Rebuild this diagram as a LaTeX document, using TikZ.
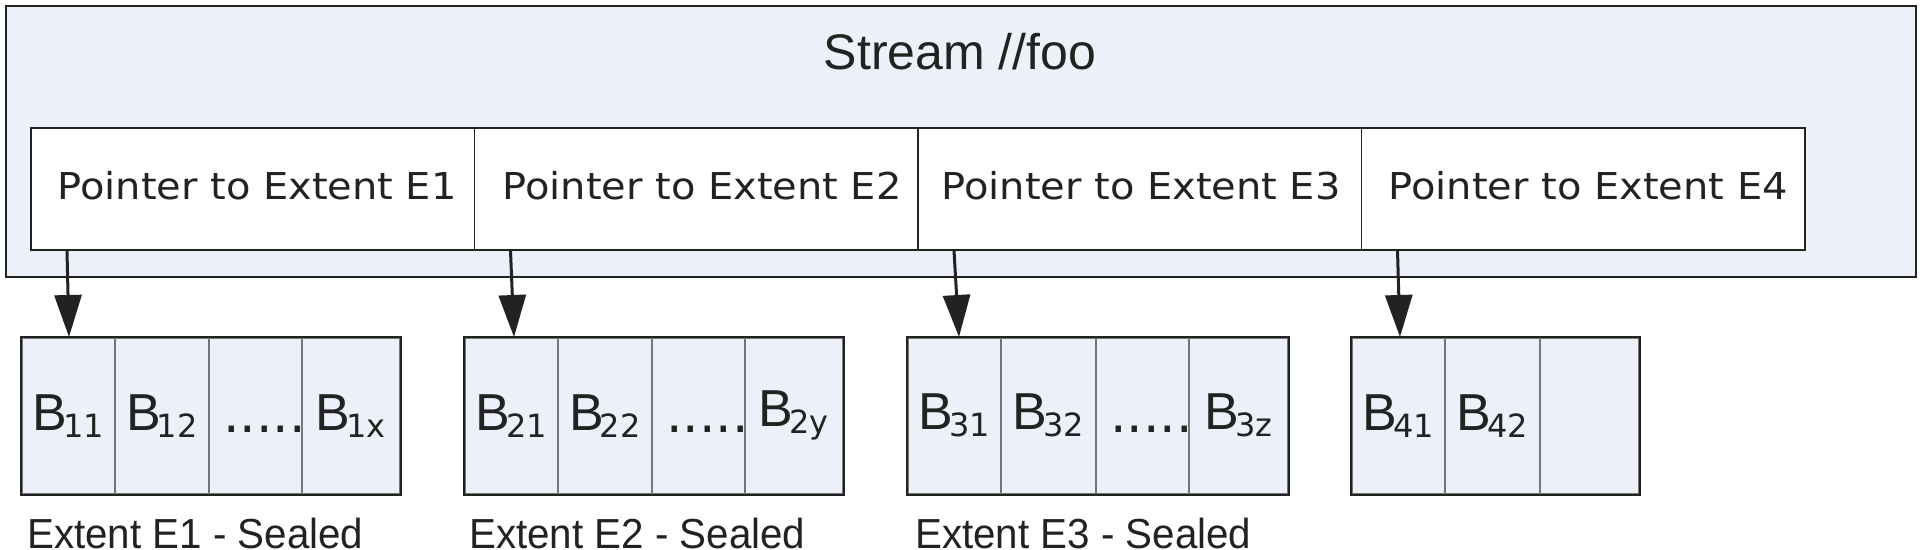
\documentclass[tikz,border=0pt]{standalone}
\usepackage{fontspec}
\setmainfont{Liberation Sans}
\newfontfamily\dvs{DejaVu Sans}
\newfontfamily\dvsw[FakeStretch=1.08]{DejaVu Sans}
\newfontfamily\capfont[FakeStretch=0.96]{Liberation Sans}
\usetikzlibrary{arrows.meta,calc}
\definecolor{boxfill}{HTML}{EBF0F9}
\definecolor{edge}{HTML}{222222}
\definecolor{divgray}{HTML}{777777}
\newcommand\Bsub[1]{{\fontsize{52}{52}\selectfont B}\kern-4pt\raisebox{-7pt}{\dvs\fontsize{32}{32}\selectfont #1}}
\tikzset{
  streambox/.style={draw=edge, line width=1.6pt, fill=boxfill, inner sep=0pt,
    minimum width=1910pt, minimum height=271pt, anchor=north west},
  titletext/.style={font=\fontsize{50}{54}\selectfont, text=edge, anchor=base, inner sep=0pt},
  ptrcell/.style={draw=edge, line width=1.6pt, fill=white, inner sep=0pt,
    minimum width=443.5pt, minimum height=122pt, anchor=north west,
    text height=27pt, text depth=5pt, text=edge,
    font=\dvsw\fontsize{37}{40}\selectfont},
  blkcell/.style={draw=divgray, line width=1.6pt, fill=boxfill, inner sep=0pt,
    minimum height=156pt, anchor=north west, text=edge},
  blkframe/.style={draw=edge, line width=1.8pt},
  dotstext/.style={font=\dvs\fontsize{52}{52}\selectfont, text=edge, anchor=base east, inner sep=0pt},
  captext/.style={font=\capfont\fontsize{42}{46}\selectfont, text=edge, anchor=base west, inner sep=0pt},
  ptrarrow/.style={-{Triangle[length=42pt,width=27pt]}, line width=3pt, draw=edge, fill=edge}
}
\begin{document}
\begin{tikzpicture}[x=1pt,y=-1pt]
\useasboundingbox (0,0) rectangle (1920,549);
\clip (0,0) rectangle (1920,549);

% stream container
\node[streambox] (stream) at (5,5) {};
\node[titletext] (title) at (960,69) {Stream //foo};

% pointer cells
\node[ptrcell] (p1) at (30,127)     {\hspace*{9pt}Pointer to Extent E1};
\node[ptrcell] (p2) at (473.5,127)  {\hspace*{12pt}Pointer to Extent E2};
\node[ptrcell] (p3) at (917,127)    {\hspace*{3pt}Pointer to Extent E3};
\node[ptrcell] (p4) at (1360.5,127) {\hspace*{10pt}Pointer to Extent E4};

% extent E1
\node[blkcell, minimum width=93pt] (b11) at (21,337)  {\Bsub{11}};
\node[blkcell, minimum width=94pt] (b12) at (114,337) {\Bsub{12}};
\node[blkcell, minimum width=93pt] (b13) at (208,337) {};
\node[blkcell, minimum width=98pt] (b14) at (301,337) {\Bsub{1x}};
\draw[blkframe] (b11.north west) rectangle (b14.south east);
\node[dotstext] (d1) at (306,432) {.....};
\node[captext] (c1) at (27,548) {Extent E1 - Sealed};

% extent E2
\node[blkcell, minimum width=93pt] (b21) at (464,337) {\Bsub{21}};
\node[blkcell, minimum width=94pt] (b22) at (557,337) {\Bsub{22}};
\node[blkcell, minimum width=93pt] (b23) at (651,337) {};
\node[blkcell, minimum width=98pt] (b24) at (744,337) {\Bsub{2y}};
\draw[blkframe] (b21.north west) rectangle (b24.south east);
\node[dotstext] (d2) at (749,432) {.....};
\node[captext] (c2) at (469,548) {Extent E2 - Sealed};

% extent E3
\node[blkcell, minimum width=93pt] (b31) at (907,337)  {\Bsub{31}};
\node[blkcell, minimum width=95pt] (b32) at (1000,337) {\Bsub{32}};
\node[blkcell, minimum width=93pt] (b33) at (1095,337) {};
\node[blkcell, minimum width=99pt] (b34) at (1188,337) {\Bsub{3z}};
\draw[blkframe] (b31.north west) rectangle (b34.south east);
\node[dotstext] (d3) at (1193,432) {.....};
\node[captext] (c3) at (915,548) {Extent E3 - Sealed};

% extent E4
\node[blkcell, minimum width=93pt] (b41) at (1351,337) {\Bsub{41}};
\node[blkcell, minimum width=95pt] (b42) at (1444,337) {\Bsub{42}};
\node[blkcell, minimum width=99pt] (b43) at (1539,337) {};
\draw[blkframe] (b41.north west) rectangle (b43.south east);

% pointers
\draw[ptrarrow] ($(p1.south west)+(37,0)$) -- ($(b11.north west)+(48,0)$);
\draw[ptrarrow] ($(p2.south west)+(37,0)$) -- ($(b21.north west)+(50,0)$);
\draw[ptrarrow] ($(p3.south west)+(37,0)$) -- ($(b31.north west)+(52,0)$);
\draw[ptrarrow] ($(p4.south west)+(37,0)$) -- ($(b41.north west)+(49,0)$);
\end{tikzpicture}
\end{document}
